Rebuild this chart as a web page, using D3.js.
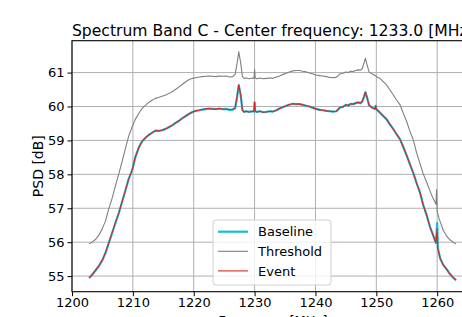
<!DOCTYPE html>
<html>
<head>
<meta charset="utf-8">
<script src="https://cdn.jsdelivr.net/npm/d3@7"></script>
<style>
  body { margin: 0; background: #fff; }
  svg { display: block; font-family: "DejaVu Sans", sans-serif; }
</style>
</head>
<body>
<div id="chart"></div>
<script>
// Values
const title = "Spectrum Band C - Center frequency: 1233.0 [MHz]";
const xTicks = [1200, 1210, 1220, 1230, 1240, 1250, 1260];
const yTicks = [55, 56, 57, 58, 59, 60, 61];
const seriesNames = ["Baseline", "Threshold", "Event"];

const freq = [
    1202.8, 1203.3, 1203.8, 1204.4, 1205.0, 1205.5, 1206.0, 1206.6, 1207.1, 1207.7,
    1208.2, 1208.8, 1209.3, 1209.9, 1210.4, 1211.0, 1211.5, 1212.1, 1212.6, 1213.2,
    1213.7, 1214.3, 1214.8, 1215.4, 1215.9, 1216.5, 1217.0, 1217.6, 1218.1, 1218.7,
    1219.2, 1219.8, 1220.3, 1220.9, 1221.4, 1222.0, 1222.6, 1223.1, 1223.7, 1224.2,
    1224.8, 1225.3, 1225.9, 1226.4, 1226.8, 1227.1, 1227.4, 1227.7, 1228.0, 1228.3,
    1228.6, 1229.1, 1229.7, 1229.9, 1230.0, 1230.1, 1230.4, 1230.9, 1231.4, 1231.9,
    1232.5, 1233.0, 1233.6, 1234.1, 1234.6, 1235.2, 1235.7, 1236.3, 1236.8, 1237.4,
    1237.9, 1238.5, 1239.0, 1239.6, 1240.1, 1240.7, 1241.2, 1241.8, 1242.3, 1242.9,
    1243.4, 1243.7, 1244.0, 1244.5, 1245.0, 1245.4, 1245.8, 1246.2, 1246.6, 1247.0,
    1247.4, 1247.7, 1248.0, 1248.2, 1248.5, 1248.8, 1249.2, 1249.5, 1249.8, 1249.9,
    1250.0, 1250.3, 1250.6, 1251.1, 1251.7, 1252.2, 1252.8, 1253.3, 1253.9, 1254.4,
    1255.0, 1255.5, 1256.1, 1256.6, 1257.2, 1257.7, 1258.3, 1258.8, 1259.3, 1259.6,
    1259.8, 1260.0, 1260.1, 1260.3, 1260.5, 1261.0, 1261.6, 1262.1, 1262.6, 1263.1
];

const baseline = [
    54.95, 55.04, 55.15, 55.29, 55.47, 55.68, 55.95, 56.27, 56.55, 56.86,
    57.17, 57.54, 57.85, 58.13, 58.50, 58.80, 58.97, 59.08, 59.16, 59.23,
    59.29, 59.28, 59.30, 59.34, 59.39, 59.45, 59.51, 59.58, 59.65, 59.72,
    59.78, 59.84, 59.87, 59.89, 59.91, 59.92, 59.94, 59.93, 59.92, 59.94,
    59.92, 59.93, 59.90, 59.91, 59.95, 60.25, 60.63, 60.35, 59.90, 59.84,
    59.86, 59.84, 59.86, 59.85, 60.12, 59.86, 59.84, 59.86, 59.83, 59.84,
    59.86, 59.85, 59.89, 59.94, 59.98, 60.02, 60.05, 60.08, 60.07, 60.07,
    60.05, 60.02, 60.00, 59.96, 59.93, 59.90, 59.89, 59.87, 59.86, 59.85,
    59.86, 59.90, 59.97, 59.99, 60.05, 60.03, 60.08, 60.07, 60.10, 60.12,
    60.10, 60.15, 60.30, 60.42, 60.25, 60.04, 59.98, 59.95, 59.93, 60.02,
    59.92, 59.87, 59.82, 59.73, 59.62, 59.48, 59.33, 59.19, 59.03, 58.82,
    58.55, 58.31, 58.03, 57.75, 57.45, 57.10, 56.78, 56.46, 56.22, 56.07,
    55.98, 56.57, 55.85, 55.67, 55.52, 55.33, 55.19, 55.06, 54.96, 54.88
];

const event = [
    54.94, 55.03, 55.16, 55.30, 55.48, 55.69, 55.96, 56.28, 56.56, 56.87,
    57.18, 57.55, 57.86, 58.14, 58.51, 58.80, 58.97, 59.09, 59.16, 59.23,
    59.29, 59.28, 59.31, 59.34, 59.39, 59.45, 59.52, 59.58, 59.65, 59.72,
    59.78, 59.84, 59.87, 59.89, 59.91, 59.93, 59.94, 59.92, 59.93, 59.94,
    59.92, 59.92, 59.91, 59.91, 59.96, 60.27, 60.64, 60.36, 59.90, 59.84,
    59.86, 59.84, 59.86, 59.85, 60.13, 59.86, 59.84, 59.86, 59.83, 59.84,
    59.86, 59.85, 59.89, 59.94, 59.98, 60.02, 60.06, 60.08, 60.07, 60.07,
    60.05, 60.02, 60.00, 59.96, 59.93, 59.90, 59.89, 59.87, 59.86, 59.85,
    59.86, 59.91, 59.97, 59.99, 60.05, 60.03, 60.08, 60.07, 60.10, 60.12,
    60.10, 60.15, 60.31, 60.43, 60.25, 60.04, 59.98, 59.95, 59.93, 60.02,
    59.92, 59.87, 59.82, 59.73, 59.62, 59.48, 59.33, 59.19, 59.03, 58.82,
    58.55, 58.31, 58.03, 57.75, 57.45, 57.10, 56.78, 56.46, 56.22, 56.07,
    55.98, 56.40, 55.80, 55.66, 55.52, 55.33, 55.19, 55.06, 54.96, 54.88
];

const thrFreq = [
    1202.8, 1203.3, 1203.8, 1204.4, 1204.9, 1205.5, 1206.0, 1206.6, 1207.1, 1207.7,
    1208.2, 1208.8, 1209.3, 1209.9, 1210.4, 1211.0, 1211.5, 1212.1, 1212.6, 1213.2,
    1213.7, 1214.3, 1214.8, 1215.4, 1215.9, 1216.5, 1217.0, 1217.6, 1218.1, 1218.7,
    1219.2, 1219.8, 1220.3, 1220.9, 1221.4, 1222.0, 1222.6, 1223.1, 1223.7, 1224.2,
    1224.8, 1225.3, 1225.9, 1226.4, 1226.8, 1227.1, 1227.4, 1227.7, 1228.0, 1228.3,
    1228.6, 1229.1, 1229.7, 1229.9, 1230.0, 1230.1, 1230.4, 1230.9, 1231.4, 1231.9,
    1232.5, 1233.0, 1233.6, 1234.1, 1234.6, 1235.2, 1235.7, 1236.3, 1236.8, 1237.4,
    1237.9, 1238.5, 1239.0, 1239.6, 1240.1, 1240.7, 1241.2, 1241.8, 1242.3, 1242.9,
    1243.4, 1243.7, 1244.0, 1244.5, 1245.0, 1245.4, 1245.8, 1246.2, 1246.6, 1247.0,
    1247.4, 1247.7, 1248.0, 1248.2, 1248.5, 1248.8, 1249.2, 1249.5, 1249.8, 1250.0,
    1250.6, 1251.1, 1251.7, 1252.2, 1252.8, 1253.3, 1253.9, 1254.4, 1255.0, 1255.5,
    1256.1, 1256.6, 1257.2, 1257.7, 1258.3, 1258.8, 1259.3, 1259.8, 1259.9, 1260.0,
    1260.3, 1260.5, 1261.0, 1261.6, 1262.1, 1262.6, 1263.1
];

const threshold = [
    55.95, 56.00, 56.07, 56.20, 56.37, 56.62, 56.96, 57.30, 57.64, 58.02,
    58.35, 58.78, 59.12, 59.41, 59.62, 59.80, 59.94, 60.04, 60.12, 60.19,
    60.24, 60.27, 60.30, 60.34, 60.38, 60.44, 60.50, 60.58, 60.65, 60.73,
    60.79, 60.83, 60.85, 60.87, 60.88, 60.89, 60.90, 60.89, 60.88, 60.90,
    60.89, 60.90, 60.87, 60.88, 60.95, 61.25, 61.61, 61.30, 60.88, 60.83,
    60.84, 60.82, 60.84, 60.83, 61.09, 60.84, 60.82, 60.84, 60.82, 60.83,
    60.84, 60.83, 60.87, 60.90, 60.94, 60.98, 61.02, 61.05, 61.06, 61.06,
    61.04, 61.02, 60.99, 60.96, 60.93, 60.91, 60.90, 60.88, 60.86, 60.85,
    60.86, 60.90, 60.96, 60.98, 61.02, 61.00, 61.04, 61.03, 61.06, 61.08,
    61.07, 61.12, 61.30, 61.42, 61.22, 61.02, 60.97, 60.94, 60.92, 60.88,
    60.83, 60.74, 60.63, 60.50, 60.34, 60.20, 60.05, 59.82, 59.55, 59.28,
    59.00, 58.65, 58.30, 58.02, 57.75, 57.52, 57.30, 57.12, 57.55, 56.90,
    56.70, 56.60, 56.35, 56.17, 56.07, 56.00, 55.95
];

const width = 462, height = 317;
// axes box (right part falls outside the picture, as in the reference)
const box = { left: 72, right: 473.7, top: 40.7, bottom: 291.7 };

const svg = d3.select("#chart").append("svg")
    .attr("width", width)
    .attr("height", height);

const x = d3.scaleLinear().domain([1200, 1266]).range([box.left, box.right]);
const y = d3.scaleLinear().domain([54.54, 61.94]).range([box.bottom, box.top]);

svg.append("clipPath").attr("id", "plotClip")
    .append("rect")
    .attr("x", box.left).attr("y", box.top)
    .attr("width", box.right - box.left).attr("height", box.bottom - box.top);

// grid
const grid = svg.append("g").attr("stroke", "#b0b0b0").attr("stroke-width", 1);
grid.selectAll(".gx").data(xTicks).enter().append("line")
    .attr("x1", d => x(d)).attr("x2", d => x(d))
    .attr("y1", box.top).attr("y2", box.bottom);
grid.selectAll(".gy").data(yTicks).enter().append("line")
    .attr("x1", box.left).attr("x2", box.right)
    .attr("y1", d => y(d)).attr("y2", d => y(d));

// curves
const line = d3.line().x(d => x(d[0])).y(d => y(d[1]));
const n = Math.min(freq.length, baseline.length, event.length);
const baseData = d3.range(n).map(i => [freq[i], baseline[i]]);
const eventData = d3.range(n).map(i => [freq[i], event[i]]);
const thrData = d3.range(Math.min(thrFreq.length, threshold.length)).map(i => [thrFreq[i], threshold[i]]);

const curves = svg.append("g").attr("clip-path", "url(#plotClip)")
    .attr("fill", "none").attr("stroke-linejoin", "round");
curves.append("path").attr("d", line(baseData))
    .attr("stroke", "#17becf").attr("stroke-width", 2.2);
curves.append("path").attr("d", line(thrData))
    .attr("stroke", "#7f7f7f").attr("stroke-width", 1.1);
curves.append("path").attr("d", line(eventData))
    .attr("stroke", "#d62728").attr("stroke-width", 1.1);

// axes
const xAxis = svg.append("g")
    .attr("transform", `translate(0,${box.bottom})`)
    .call(d3.axisBottom(x).tickValues(xTicks).tickSize(4.5).tickPadding(2).tickFormat(d3.format("d")));
const yAxis = svg.append("g")
    .attr("transform", `translate(${box.left},0)`)
    .call(d3.axisLeft(y).tickValues(yTicks).tickSize(4.5).tickPadding(3).tickFormat(d3.format("d")));
[xAxis, yAxis].forEach(a => {
    a.select(".domain").remove();
    a.selectAll("line").attr("stroke", "#000").attr("stroke-width", 1);
    a.selectAll("text").attr("fill", "#000")
        .style("font-family", "DejaVu Sans").style("font-size", "13px");
});

// spines
svg.append("rect")
    .attr("x", box.left).attr("y", box.top)
    .attr("width", box.right - box.left).attr("height", box.bottom - box.top)
    .attr("fill", "none").attr("stroke", "#000").attr("stroke-width", 1.1);

// title and labels
svg.append("text")
    .attr("x", (box.left + box.right) / 2).attr("y", 36)
    .attr("text-anchor", "middle")
    .style("font-size", "15.6px")
    .text(title);

svg.append("text")
    .attr("transform", `translate(43,${(box.top + box.bottom) / 2}) rotate(-90)`)
    .attr("text-anchor", "middle")
    .style("font-size", "14px")
    .text("PSD [dB]");

svg.append("text")
    .attr("x", (box.left + box.right) / 2).attr("y", 325)
    .attr("text-anchor", "middle")
    .style("font-size", "13px")
    .text("Frequency [MHz]");

// legend
const legend = svg.append("g").attr("transform", "translate(213,220)");
legend.append("rect")
    .attr("width", 118).attr("height", 65).attr("rx", 3)
    .attr("fill", "#fff").attr("fill-opacity", 0.8)
    .attr("stroke", "#d0d0d0").attr("stroke-width", 1);
const legendColors = ["#17becf", "#7f7f7f", "#d62728"];
const legendWidths = [2.2, 1.1, 1.1];
const items = legend.selectAll(".item").data(seriesNames).enter().append("g")
    .attr("transform", (d, i) => `translate(0,${11.7 + i * 19.6})`);
items.append("line")
    .attr("x1", 5).attr("x2", 35)
    .attr("stroke", (d, i) => legendColors[i])
    .attr("stroke-width", (d, i) => legendWidths[i]);
items.append("text")
    .attr("x", 45).attr("dy", "0.36em")
    .style("font-size", "13px")
    .text(d => d);
</script>
</body>
</html>
